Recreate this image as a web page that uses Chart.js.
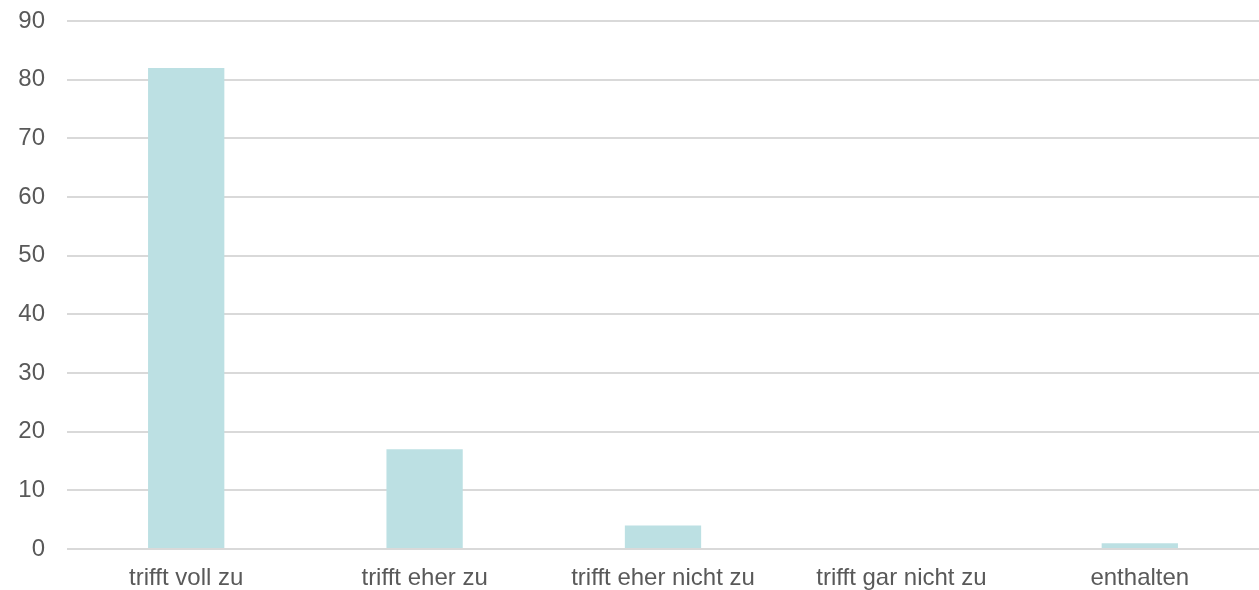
<!DOCTYPE html>
<html>
<head>
<meta charset="utf-8">
<script src="https://cdn.jsdelivr.net/npm/chart.js@4"></script>
<style>
  html, body { margin:0; padding:0; background:#fff; }
  #wrap { width:1259px; height:590px; }
</style>
</head>
<body>
<div id="wrap"><canvas id="chart" width="1259" height="590"></canvas></div>
<script>
// ─── DATA ─────────────────────────────────────────────────────────────────────
const categories = ['trifft voll zu', 'trifft eher zu', 'trifft eher nicht zu', 'trifft gar nicht zu', 'enthalten'];
const counts = [82, 17, 4, 0, 1];
const yTicks = [0, 10, 20, 30, 40, 50, 60, 70, 80, 90];

const FONT = { family:"'Liberation Sans', Arial, sans-serif", size:24 };

new Chart(document.getElementById('chart'), {
  type:'bar',
  data:{ labels:categories, datasets:[{
    data:counts, backgroundColor:'#bce0e3', borderWidth:0,
    categoryPercentage:1, barPercentage:0.32
  }]},
  options:{
    responsive:false, animation:false, devicePixelRatio:1,
    layout:{ padding:{ top:21, right:0, left:0, bottom:0 } },
    plugins:{ legend:{display:false}, tooltip:{enabled:false} },
    scales:{
      x:{
        grid:{ display:false, drawTicks:false }, border:{ display:false },
        ticks:{ font:FONT, color:'#595959', padding:15, maxRotation:0, autoSkip:false },
        afterFit:s => { s.height = 41; }
      },
      y:{
        min:0, max:90,
        grid:{ color:'#d9d9d9', lineWidth:2, drawTicks:false }, border:{ display:false },
        afterBuildTicks:s => { s.ticks = yTicks.map(v => ({ value:v })); },
        ticks:{ font:FONT, color:'#595959', padding:22 },
        // fixed axis width; no extra room for the top label
        afterFit:s => { s.width = 67; s.paddingTop = 0; s.paddingBottom = 0; }
      }
    }
  }
});
</script>
</body>
</html>
